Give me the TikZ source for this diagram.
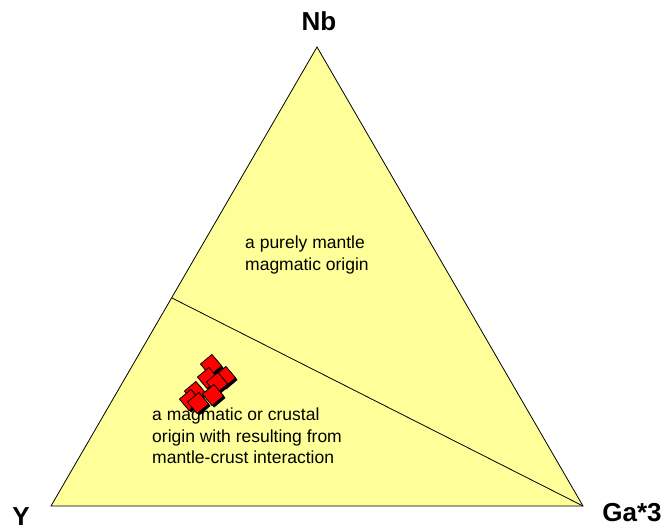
\documentclass[tikz,border=0pt]{standalone}
\usepackage{fontspec}
\setmainfont{Liberation Sans}
\definecolor{fieldyellow}{RGB}{255,255,153}
\definecolor{ptred}{RGB}{255,0,0}
\begin{document}
\begin{tikzpicture}[x=1pt,y=-1pt,
  vertexlabel/.style={font=\fontsize{26}{30}\selectfont\bfseries, inner sep=0pt},
  fieldlabel/.style={font=\fontsize{17.5}{21.5}\selectfont, align=left, anchor=north west, inner sep=0pt},
  ptshadow/.style={rectangle, minimum size=15pt, inner sep=0pt, rotate=40, fill=black},
  ptbox/.style={rectangle, minimum size=15pt, inner sep=0pt, rotate=40, fill=ptred, draw=black, line width=0.8pt}]
\useasboundingbox (0,0) rectangle (670,531);
\coordinate (Nbv) at (317,47);
\coordinate (Yv) at (51,506);
\coordinate (Gav) at (583,506);
\coordinate (div) at (172,298);
\fill[fieldyellow] (Nbv) -- (Yv) -- (Gav) -- cycle;
\draw[line width=0.8pt] (Nbv) -- (Yv) -- (Gav) -- cycle;
\draw[line width=0.8pt] (div) -- (Gav);
\node[vertexlabel] (Nb) at (319,21) {Nb};
\node[vertexlabel] (Y) at (21,517) {Y};
\node[vertexlabel] (Ga) at (632,513) {Ga*3};
\node[fieldlabel] (upper) at (245,236) {a purely mantle\\magmatic origin};
\node[fieldlabel] (lower) at (152,408) {a magmatic or crustal\\origin with resulting from\\mantle-crust interaction};
\foreach \px/\py [count=\i] in {211/365, 225/377, 208/378, 217/383, 195/392, 213/395, 190/400, 198/403} {
  \node[ptshadow] (s\i) at (\px+2,\py+2) {};
  \node[ptbox] (p\i) at (\px,\py) {};
}
\end{tikzpicture}
\end{document}
